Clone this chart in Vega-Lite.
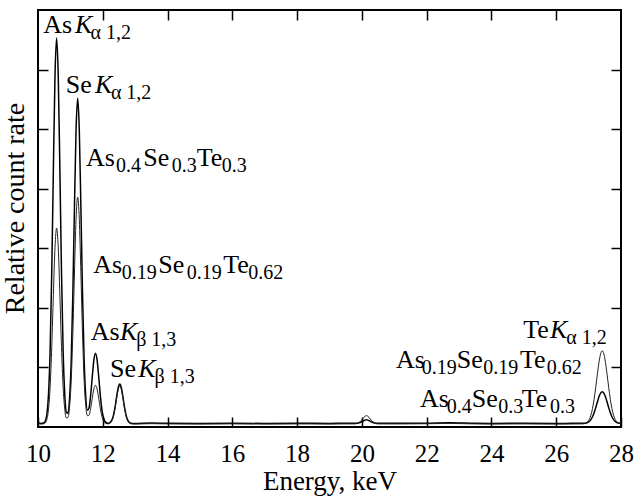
{
  "$schema": "https://vega.github.io/schema/vega-lite/v6.json",
  "width": 583,
  "height": 417,
  "autosize": "none",
  "padding": {"left": 38, "top": 10, "right": 13, "bottom": 70},
  "background": "white",
  "config": {
    "view": {"stroke": "black", "strokeWidth": 2},
    "font": "Liberation Serif",
    "text": {"font": "Liberation Serif"},
    "axis": {
      "labelFont": "Liberation Serif", "labelFontSize": 25, "labelColor": "black",
      "titleFont": "Liberation Serif", "titleFontSize": 27, "titleFontWeight": "normal", "titleColor": "black",
      "domain": false, "grid": false, "tickColor": "black", "tickWidth": 1.5, "tickSize": -10,
      "labelFlush": false, "labelOverlap": false
    }
  },
  "datasets": {
    "spectra": [
      {"energy": 10.0, "rate": 0.1, "sample": "As0.4Se0.3Te0.3"},
      {"energy": 10.025, "rate": 0.07, "sample": "As0.4Se0.3Te0.3"},
      {"energy": 10.075, "rate": 0.06, "sample": "As0.4Se0.3Te0.3"},
      {"energy": 10.125, "rate": 0.061, "sample": "As0.4Se0.3Te0.3"},
      {"energy": 10.175, "rate": 0.066, "sample": "As0.4Se0.3Te0.3"},
      {"energy": 10.225, "rate": 0.1, "sample": "As0.4Se0.3Te0.3"},
      {"energy": 10.275, "rate": 0.215, "sample": "As0.4Se0.3Te0.3"},
      {"energy": 10.325, "rate": 0.552, "sample": "As0.4Se0.3Te0.3"},
      {"energy": 10.375, "rate": 1.296, "sample": "As0.4Se0.3Te0.3"},
      {"energy": 10.425, "rate": 2.616, "sample": "As0.4Se0.3Te0.3"},
      {"energy": 10.475, "rate": 4.337, "sample": "As0.4Se0.3Te0.3"},
      {"energy": 10.525, "rate": 5.896, "sample": "As0.4Se0.3Te0.3"},
      {"energy": 10.575, "rate": 6.53, "sample": "As0.4Se0.3Te0.3"},
      {"energy": 10.625, "rate": 5.896, "sample": "As0.4Se0.3Te0.3"},
      {"energy": 10.675, "rate": 4.337, "sample": "As0.4Se0.3Te0.3"},
      {"energy": 10.725, "rate": 2.616, "sample": "As0.4Se0.3Te0.3"},
      {"energy": 10.775, "rate": 1.296, "sample": "As0.4Se0.3Te0.3"},
      {"energy": 10.825, "rate": 0.557, "sample": "As0.4Se0.3Te0.3"},
      {"energy": 10.875, "rate": 0.248, "sample": "As0.4Se0.3Te0.3"},
      {"energy": 10.925, "rate": 0.23, "sample": "As0.4Se0.3Te0.3"},
      {"energy": 10.975, "rate": 0.481, "sample": "As0.4Se0.3Te0.3"},
      {"energy": 11.025, "rate": 1.103, "sample": "As0.4Se0.3Te0.3"},
      {"energy": 11.075, "rate": 2.217, "sample": "As0.4Se0.3Te0.3"},
      {"energy": 11.125, "rate": 3.669, "sample": "As0.4Se0.3Te0.3"},
      {"energy": 11.175, "rate": 4.985, "sample": "As0.4Se0.3Te0.3"},
      {"energy": 11.225, "rate": 5.52, "sample": "As0.4Se0.3Te0.3"},
      {"energy": 11.275, "rate": 4.985, "sample": "As0.4Se0.3Te0.3"},
      {"energy": 11.325, "rate": 3.669, "sample": "As0.4Se0.3Te0.3"},
      {"energy": 11.375, "rate": 2.218, "sample": "As0.4Se0.3Te0.3"},
      {"energy": 11.425, "rate": 1.11, "sample": "As0.4Se0.3Te0.3"},
      {"energy": 11.475, "rate": 0.503, "sample": "As0.4Se0.3Te0.3"},
      {"energy": 11.525, "rate": 0.281, "sample": "As0.4Se0.3Te0.3"},
      {"energy": 11.575, "rate": 0.318, "sample": "As0.4Se0.3Te0.3"},
      {"energy": 11.625, "rate": 0.531, "sample": "As0.4Se0.3Te0.3"},
      {"energy": 11.675, "rate": 0.84, "sample": "As0.4Se0.3Te0.3"},
      {"energy": 11.725, "rate": 1.124, "sample": "As0.4Se0.3Te0.3"},
      {"energy": 11.775, "rate": 1.24, "sample": "As0.4Se0.3Te0.3"},
      {"energy": 11.825, "rate": 1.124, "sample": "As0.4Se0.3Te0.3"},
      {"energy": 11.875, "rate": 0.84, "sample": "As0.4Se0.3Te0.3"},
      {"energy": 11.925, "rate": 0.526, "sample": "As0.4Se0.3Te0.3"},
      {"energy": 11.975, "rate": 0.285, "sample": "As0.4Se0.3Te0.3"},
      {"energy": 12.025, "rate": 0.15, "sample": "As0.4Se0.3Te0.3"},
      {"energy": 12.075, "rate": 0.088, "sample": "As0.4Se0.3Te0.3"},
      {"energy": 12.125, "rate": 0.068, "sample": "As0.4Se0.3Te0.3"},
      {"energy": 12.175, "rate": 0.064, "sample": "As0.4Se0.3Te0.3"},
      {"energy": 12.225, "rate": 0.076, "sample": "As0.4Se0.3Te0.3"},
      {"energy": 12.275, "rate": 0.11, "sample": "As0.4Se0.3Te0.3"},
      {"energy": 12.325, "rate": 0.186, "sample": "As0.4Se0.3Te0.3"},
      {"energy": 12.375, "rate": 0.321, "sample": "As0.4Se0.3Te0.3"},
      {"energy": 12.425, "rate": 0.496, "sample": "As0.4Se0.3Te0.3"},
      {"energy": 12.475, "rate": 0.655, "sample": "As0.4Se0.3Te0.3"},
      {"energy": 12.525, "rate": 0.72, "sample": "As0.4Se0.3Te0.3"},
      {"energy": 12.575, "rate": 0.655, "sample": "As0.4Se0.3Te0.3"},
      {"energy": 12.625, "rate": 0.496, "sample": "As0.4Se0.3Te0.3"},
      {"energy": 12.675, "rate": 0.321, "sample": "As0.4Se0.3Te0.3"},
      {"energy": 12.725, "rate": 0.186, "sample": "As0.4Se0.3Te0.3"},
      {"energy": 12.775, "rate": 0.11, "sample": "As0.4Se0.3Te0.3"},
      {"energy": 12.825, "rate": 0.076, "sample": "As0.4Se0.3Te0.3"},
      {"energy": 12.875, "rate": 0.064, "sample": "As0.4Se0.3Te0.3"},
      {"energy": 12.975, "rate": 0.06, "sample": "As0.4Se0.3Te0.3"},
      {"energy": 13.5, "rate": 0.066, "sample": "As0.4Se0.3Te0.3"},
      {"energy": 14.0, "rate": 0.062, "sample": "As0.4Se0.3Te0.3"},
      {"energy": 15.0, "rate": 0.06, "sample": "As0.4Se0.3Te0.3"},
      {"energy": 16.0, "rate": 0.063, "sample": "As0.4Se0.3Te0.3"},
      {"energy": 17.0, "rate": 0.06, "sample": "As0.4Se0.3Te0.3"},
      {"energy": 18.0, "rate": 0.062, "sample": "As0.4Se0.3Te0.3"},
      {"energy": 19.0, "rate": 0.06, "sample": "As0.4Se0.3Te0.3"},
      {"energy": 19.5, "rate": 0.062, "sample": "As0.4Se0.3Te0.3"},
      {"energy": 19.79, "rate": 0.061, "sample": "As0.4Se0.3Te0.3"},
      {"energy": 19.84, "rate": 0.063, "sample": "As0.4Se0.3Te0.3"},
      {"energy": 19.89, "rate": 0.067, "sample": "As0.4Se0.3Te0.3"},
      {"energy": 19.94, "rate": 0.075, "sample": "As0.4Se0.3Te0.3"},
      {"energy": 19.99, "rate": 0.087, "sample": "As0.4Se0.3Te0.3"},
      {"energy": 20.04, "rate": 0.102, "sample": "As0.4Se0.3Te0.3"},
      {"energy": 20.09, "rate": 0.115, "sample": "As0.4Se0.3Te0.3"},
      {"energy": 20.14, "rate": 0.12, "sample": "As0.4Se0.3Te0.3"},
      {"energy": 20.19, "rate": 0.115, "sample": "As0.4Se0.3Te0.3"},
      {"energy": 20.24, "rate": 0.102, "sample": "As0.4Se0.3Te0.3"},
      {"energy": 20.29, "rate": 0.087, "sample": "As0.4Se0.3Te0.3"},
      {"energy": 20.34, "rate": 0.075, "sample": "As0.4Se0.3Te0.3"},
      {"energy": 20.39, "rate": 0.067, "sample": "As0.4Se0.3Te0.3"},
      {"energy": 20.44, "rate": 0.063, "sample": "As0.4Se0.3Te0.3"},
      {"energy": 20.49, "rate": 0.061, "sample": "As0.4Se0.3Te0.3"},
      {"energy": 21.0, "rate": 0.061, "sample": "As0.4Se0.3Te0.3"},
      {"energy": 22.0, "rate": 0.063, "sample": "As0.4Se0.3Te0.3"},
      {"energy": 22.7, "rate": 0.07, "sample": "As0.4Se0.3Te0.3"},
      {"energy": 23.5, "rate": 0.062, "sample": "As0.4Se0.3Te0.3"},
      {"energy": 24.0, "rate": 0.06, "sample": "As0.4Se0.3Te0.3"},
      {"energy": 25.0, "rate": 0.062, "sample": "As0.4Se0.3Te0.3"},
      {"energy": 26.0, "rate": 0.06, "sample": "As0.4Se0.3Te0.3"},
      {"energy": 26.5, "rate": 0.061, "sample": "As0.4Se0.3Te0.3"},
      {"energy": 26.82, "rate": 0.061, "sample": "As0.4Se0.3Te0.3"},
      {"energy": 26.87, "rate": 0.063, "sample": "As0.4Se0.3Te0.3"},
      {"energy": 26.92, "rate": 0.067, "sample": "As0.4Se0.3Te0.3"},
      {"energy": 26.97, "rate": 0.076, "sample": "As0.4Se0.3Te0.3"},
      {"energy": 27.02, "rate": 0.093, "sample": "As0.4Se0.3Te0.3"},
      {"energy": 27.07, "rate": 0.124, "sample": "As0.4Se0.3Te0.3"},
      {"energy": 27.12, "rate": 0.172, "sample": "As0.4Se0.3Te0.3"},
      {"energy": 27.17, "rate": 0.24, "sample": "As0.4Se0.3Te0.3"},
      {"energy": 27.22, "rate": 0.325, "sample": "As0.4Se0.3Te0.3"},
      {"energy": 27.27, "rate": 0.419, "sample": "As0.4Se0.3Te0.3"},
      {"energy": 27.32, "rate": 0.506, "sample": "As0.4Se0.3Te0.3"},
      {"energy": 27.37, "rate": 0.568, "sample": "As0.4Se0.3Te0.3"},
      {"energy": 27.42, "rate": 0.59, "sample": "As0.4Se0.3Te0.3"},
      {"energy": 27.47, "rate": 0.568, "sample": "As0.4Se0.3Te0.3"},
      {"energy": 27.52, "rate": 0.506, "sample": "As0.4Se0.3Te0.3"},
      {"energy": 27.57, "rate": 0.419, "sample": "As0.4Se0.3Te0.3"},
      {"energy": 27.62, "rate": 0.325, "sample": "As0.4Se0.3Te0.3"},
      {"energy": 27.67, "rate": 0.24, "sample": "As0.4Se0.3Te0.3"},
      {"energy": 27.72, "rate": 0.172, "sample": "As0.4Se0.3Te0.3"},
      {"energy": 27.77, "rate": 0.124, "sample": "As0.4Se0.3Te0.3"},
      {"energy": 27.82, "rate": 0.093, "sample": "As0.4Se0.3Te0.3"},
      {"energy": 27.87, "rate": 0.076, "sample": "As0.4Se0.3Te0.3"},
      {"energy": 27.92, "rate": 0.067, "sample": "As0.4Se0.3Te0.3"},
      {"energy": 27.97, "rate": 0.063, "sample": "As0.4Se0.3Te0.3"},
      {"energy": 28.0, "rate": 0.062, "sample": "As0.4Se0.3Te0.3"},

      {"energy": 10.0, "rate": 0.08, "sample": "As0.19Se0.19Te0.62"},
      {"energy": 10.025, "rate": 0.06, "sample": "As0.19Se0.19Te0.62"},
      {"energy": 10.075, "rate": 0.05, "sample": "As0.19Se0.19Te0.62"},
      {"energy": 10.125, "rate": 0.051, "sample": "As0.19Se0.19Te0.62"},
      {"energy": 10.175, "rate": 0.053, "sample": "As0.19Se0.19Te0.62"},
      {"energy": 10.225, "rate": 0.07, "sample": "As0.19Se0.19Te0.62"},
      {"energy": 10.275, "rate": 0.129, "sample": "As0.19Se0.19Te0.62"},
      {"energy": 10.325, "rate": 0.3, "sample": "As0.19Se0.19Te0.62"},
      {"energy": 10.375, "rate": 0.678, "sample": "As0.19Se0.19Te0.62"},
      {"energy": 10.425, "rate": 1.35, "sample": "As0.19Se0.19Te0.62"},
      {"energy": 10.475, "rate": 2.225, "sample": "As0.19Se0.19Te0.62"},
      {"energy": 10.525, "rate": 3.018, "sample": "As0.19Se0.19Te0.62"},
      {"energy": 10.575, "rate": 3.34, "sample": "As0.19Se0.19Te0.62"},
      {"energy": 10.625, "rate": 3.018, "sample": "As0.19Se0.19Te0.62"},
      {"energy": 10.675, "rate": 2.225, "sample": "As0.19Se0.19Te0.62"},
      {"energy": 10.725, "rate": 1.35, "sample": "As0.19Se0.19Te0.62"},
      {"energy": 10.775, "rate": 0.678, "sample": "As0.19Se0.19Te0.62"},
      {"energy": 10.825, "rate": 0.304, "sample": "As0.19Se0.19Te0.62"},
      {"energy": 10.875, "rate": 0.152, "sample": "As0.19Se0.19Te0.62"},
      {"energy": 10.925, "rate": 0.161, "sample": "As0.19Se0.19Te0.62"},
      {"energy": 10.975, "rate": 0.343, "sample": "As0.19Se0.19Te0.62"},
      {"energy": 11.025, "rate": 0.778, "sample": "As0.19Se0.19Te0.62"},
      {"energy": 11.075, "rate": 1.555, "sample": "As0.19Se0.19Te0.62"},
      {"energy": 11.125, "rate": 2.568, "sample": "As0.19Se0.19Te0.62"},
      {"energy": 11.175, "rate": 3.487, "sample": "As0.19Se0.19Te0.62"},
      {"energy": 11.225, "rate": 3.86, "sample": "As0.19Se0.19Te0.62"},
      {"energy": 11.275, "rate": 3.487, "sample": "As0.19Se0.19Te0.62"},
      {"energy": 11.325, "rate": 2.568, "sample": "As0.19Se0.19Te0.62"},
      {"energy": 11.375, "rate": 1.556, "sample": "As0.19Se0.19Te0.62"},
      {"energy": 11.425, "rate": 0.782, "sample": "As0.19Se0.19Te0.62"},
      {"energy": 11.475, "rate": 0.356, "sample": "As0.19Se0.19Te0.62"},
      {"energy": 11.525, "rate": 0.19, "sample": "As0.19Se0.19Te0.62"},
      {"energy": 11.575, "rate": 0.197, "sample": "As0.19Se0.19Te0.62"},
      {"energy": 11.625, "rate": 0.311, "sample": "As0.19Se0.19Te0.62"},
      {"energy": 11.675, "rate": 0.48, "sample": "As0.19Se0.19Te0.62"},
      {"energy": 11.725, "rate": 0.636, "sample": "As0.19Se0.19Te0.62"},
      {"energy": 11.775, "rate": 0.7, "sample": "As0.19Se0.19Te0.62"},
      {"energy": 11.825, "rate": 0.636, "sample": "As0.19Se0.19Te0.62"},
      {"energy": 11.875, "rate": 0.48, "sample": "As0.19Se0.19Te0.62"},
      {"energy": 11.925, "rate": 0.307, "sample": "As0.19Se0.19Te0.62"},
      {"energy": 11.975, "rate": 0.174, "sample": "As0.19Se0.19Te0.62"},
      {"energy": 12.025, "rate": 0.099, "sample": "As0.19Se0.19Te0.62"},
      {"energy": 12.075, "rate": 0.066, "sample": "As0.19Se0.19Te0.62"},
      {"energy": 12.125, "rate": 0.055, "sample": "As0.19Se0.19Te0.62"},
      {"energy": 12.175, "rate": 0.054, "sample": "As0.19Se0.19Te0.62"},
      {"energy": 12.225, "rate": 0.065, "sample": "As0.19Se0.19Te0.62"},
      {"energy": 12.275, "rate": 0.099, "sample": "As0.19Se0.19Te0.62"},
      {"energy": 12.325, "rate": 0.172, "sample": "As0.19Se0.19Te0.62"},
      {"energy": 12.375, "rate": 0.303, "sample": "As0.19Se0.19Te0.62"},
      {"energy": 12.425, "rate": 0.473, "sample": "As0.19Se0.19Te0.62"},
      {"energy": 12.475, "rate": 0.627, "sample": "As0.19Se0.19Te0.62"},
      {"energy": 12.525, "rate": 0.69, "sample": "As0.19Se0.19Te0.62"},
      {"energy": 12.575, "rate": 0.627, "sample": "As0.19Se0.19Te0.62"},
      {"energy": 12.625, "rate": 0.473, "sample": "As0.19Se0.19Te0.62"},
      {"energy": 12.675, "rate": 0.303, "sample": "As0.19Se0.19Te0.62"},
      {"energy": 12.725, "rate": 0.172, "sample": "As0.19Se0.19Te0.62"},
      {"energy": 12.775, "rate": 0.099, "sample": "As0.19Se0.19Te0.62"},
      {"energy": 12.825, "rate": 0.065, "sample": "As0.19Se0.19Te0.62"},
      {"energy": 12.875, "rate": 0.054, "sample": "As0.19Se0.19Te0.62"},
      {"energy": 12.975, "rate": 0.05, "sample": "As0.19Se0.19Te0.62"},
      {"energy": 13.5, "rate": 0.056, "sample": "As0.19Se0.19Te0.62"},
      {"energy": 14.0, "rate": 0.052, "sample": "As0.19Se0.19Te0.62"},
      {"energy": 15.0, "rate": 0.05, "sample": "As0.19Se0.19Te0.62"},
      {"energy": 16.0, "rate": 0.053, "sample": "As0.19Se0.19Te0.62"},
      {"energy": 17.0, "rate": 0.05, "sample": "As0.19Se0.19Te0.62"},
      {"energy": 18.0, "rate": 0.052, "sample": "As0.19Se0.19Te0.62"},
      {"energy": 19.0, "rate": 0.05, "sample": "As0.19Se0.19Te0.62"},
      {"energy": 19.5, "rate": 0.052, "sample": "As0.19Se0.19Te0.62"},
      {"energy": 19.79, "rate": 0.052, "sample": "As0.19Se0.19Te0.62"},
      {"energy": 19.84, "rate": 0.056, "sample": "As0.19Se0.19Te0.62"},
      {"energy": 19.89, "rate": 0.066, "sample": "As0.19Se0.19Te0.62"},
      {"energy": 19.94, "rate": 0.085, "sample": "As0.19Se0.19Te0.62"},
      {"energy": 19.99, "rate": 0.114, "sample": "As0.19Se0.19Te0.62"},
      {"energy": 20.04, "rate": 0.149, "sample": "As0.19Se0.19Te0.62"},
      {"energy": 20.09, "rate": 0.178, "sample": "As0.19Se0.19Te0.62"},
      {"energy": 20.14, "rate": 0.19, "sample": "As0.19Se0.19Te0.62"},
      {"energy": 20.19, "rate": 0.178, "sample": "As0.19Se0.19Te0.62"},
      {"energy": 20.24, "rate": 0.149, "sample": "As0.19Se0.19Te0.62"},
      {"energy": 20.29, "rate": 0.114, "sample": "As0.19Se0.19Te0.62"},
      {"energy": 20.34, "rate": 0.085, "sample": "As0.19Se0.19Te0.62"},
      {"energy": 20.39, "rate": 0.066, "sample": "As0.19Se0.19Te0.62"},
      {"energy": 20.44, "rate": 0.056, "sample": "As0.19Se0.19Te0.62"},
      {"energy": 20.49, "rate": 0.052, "sample": "As0.19Se0.19Te0.62"},
      {"energy": 21.0, "rate": 0.051, "sample": "As0.19Se0.19Te0.62"},
      {"energy": 22.0, "rate": 0.055, "sample": "As0.19Se0.19Te0.62"},
      {"energy": 22.7, "rate": 0.06, "sample": "As0.19Se0.19Te0.62"},
      {"energy": 23.5, "rate": 0.052, "sample": "As0.19Se0.19Te0.62"},
      {"energy": 24.0, "rate": 0.05, "sample": "As0.19Se0.19Te0.62"},
      {"energy": 25.0, "rate": 0.052, "sample": "As0.19Se0.19Te0.62"},
      {"energy": 26.0, "rate": 0.05, "sample": "As0.19Se0.19Te0.62"},
      {"energy": 26.5, "rate": 0.051, "sample": "As0.19Se0.19Te0.62"},
      {"energy": 26.82, "rate": 0.052, "sample": "As0.19Se0.19Te0.62"},
      {"energy": 26.87, "rate": 0.056, "sample": "As0.19Se0.19Te0.62"},
      {"energy": 26.92, "rate": 0.066, "sample": "As0.19Se0.19Te0.62"},
      {"energy": 26.97, "rate": 0.087, "sample": "As0.19Se0.19Te0.62"},
      {"energy": 27.02, "rate": 0.127, "sample": "As0.19Se0.19Te0.62"},
      {"energy": 27.07, "rate": 0.198, "sample": "As0.19Se0.19Te0.62"},
      {"energy": 27.12, "rate": 0.31, "sample": "As0.19Se0.19Te0.62"},
      {"energy": 27.17, "rate": 0.467, "sample": "As0.19Se0.19Te0.62"},
      {"energy": 27.22, "rate": 0.665, "sample": "As0.19Se0.19Te0.62"},
      {"energy": 27.27, "rate": 0.884, "sample": "As0.19Se0.19Te0.62"},
      {"energy": 27.32, "rate": 1.084, "sample": "As0.19Se0.19Te0.62"},
      {"energy": 27.37, "rate": 1.228, "sample": "As0.19Se0.19Te0.62"},
      {"energy": 27.42, "rate": 1.28, "sample": "As0.19Se0.19Te0.62"},
      {"energy": 27.47, "rate": 1.228, "sample": "As0.19Se0.19Te0.62"},
      {"energy": 27.52, "rate": 1.084, "sample": "As0.19Se0.19Te0.62"},
      {"energy": 27.57, "rate": 0.884, "sample": "As0.19Se0.19Te0.62"},
      {"energy": 27.62, "rate": 0.665, "sample": "As0.19Se0.19Te0.62"},
      {"energy": 27.67, "rate": 0.467, "sample": "As0.19Se0.19Te0.62"},
      {"energy": 27.72, "rate": 0.31, "sample": "As0.19Se0.19Te0.62"},
      {"energy": 27.77, "rate": 0.198, "sample": "As0.19Se0.19Te0.62"},
      {"energy": 27.82, "rate": 0.127, "sample": "As0.19Se0.19Te0.62"},
      {"energy": 27.87, "rate": 0.087, "sample": "As0.19Se0.19Te0.62"},
      {"energy": 27.92, "rate": 0.066, "sample": "As0.19Se0.19Te0.62"},
      {"energy": 27.97, "rate": 0.056, "sample": "As0.19Se0.19Te0.62"},
      {"energy": 28.0, "rate": 0.054, "sample": "As0.19Se0.19Te0.62"}
    ],
    "main": [
      {"x": 10.164, "y": 6.609, "t": "As"},
      {"x": 10.855, "y": 5.602, "t": "Se"},
      {"x": 11.482, "y": 4.386, "t": "As"},
      {"x": 13.251, "y": 4.386, "t": "Se"},
      {"x": 14.9, "y": 4.386, "t": "Te"},
      {"x": 11.707, "y": 2.58, "t": "As"},
      {"x": 13.714, "y": 2.58, "t": "Se"},
      {"x": 15.721, "y": 2.58, "t": "Te"},
      {"x": 11.627, "y": 1.46, "t": "As"},
      {"x": 12.223, "y": 0.844, "t": "Se"},
      {"x": 24.983, "y": 1.489, "t": "Te"},
      {"x": 21.053, "y": 0.985, "t": "As"},
      {"x": 22.927, "y": 0.985, "t": "Se"},
      {"x": 24.881, "y": 0.985, "t": "Te"},
      {"x": 21.794, "y": 0.341, "t": "As"},
      {"x": 23.39, "y": 0.341, "t": "Se"},
      {"x": 24.934, "y": 0.341, "t": "Te"}
    ],
    "kital": [
      {"x": 11.142, "y": 6.609, "t": "K"},
      {"x": 11.76, "y": 5.602, "t": "K"},
      {"x": 12.532, "y": 1.46, "t": "K"},
      {"x": 13.097, "y": 0.844, "t": "K"},
      {"x": 25.807, "y": 1.489, "t": "K"}
    ],
    "subs": [
      {"x": 11.62, "y": 6.609, "t": "α 1,2"},
      {"x": 12.25, "y": 5.602, "t": "α 1,2"},
      {"x": 12.408, "y": 4.386, "t": "0.4"},
      {"x": 14.128, "y": 4.386, "t": "0.3"},
      {"x": 15.671, "y": 4.386, "t": "0.3"},
      {"x": 12.584, "y": 2.58, "t": "0.19"},
      {"x": 14.591, "y": 2.58, "t": "0.19"},
      {"x": 16.493, "y": 2.58, "t": "0.62"},
      {"x": 13.03, "y": 1.46, "t": "β 1,3"},
      {"x": 13.6, "y": 0.844, "t": "β 1,3"},
      {"x": 26.31, "y": 1.489, "t": "α 1,2"},
      {"x": 21.846, "y": 0.985, "t": "0.19"},
      {"x": 23.748, "y": 0.985, "t": "0.19"},
      {"x": 25.705, "y": 0.985, "t": "0.62"},
      {"x": 22.618, "y": 0.341, "t": "0.4"},
      {"x": 24.211, "y": 0.341, "t": "0.3"},
      {"x": 25.807, "y": 0.341, "t": "0.3"}
    ]
  },
  "layer": [
    {
      "data": {"name": "spectra"},
      "transform": [{"filter": "datum.sample === 'As0.4Se0.3Te0.3'"}],
      "mark": {"type": "line", "color": "black", "strokeWidth": 1.5, "interpolate": "monotone"},
      "encoding": {
        "x": {"field": "energy", "type": "quantitative", "scale": {"domain": [10, 28], "nice": false},
              "axis": {"orient": "bottom", "title": "Energy, keV", "values": [10, 12, 14, 16, 18, 20, 22, 24, 26, 28], "labelPadding": 24, "titlePadding": 2,
                       "labelFont": "Liberation Serif", "titleFont": "Liberation Serif"}},
        "y": {"field": "rate", "type": "quantitative", "scale": {"domain": [0, 7], "nice": false},
              "axis": {"orient": "left", "title": "Relative count rate", "values": [1, 2, 3, 4, 5, 6], "labels": false, "titlePadding": 8,
                       "titleFontSize": 28, "titleY": 198,
                       "labelFont": "Liberation Serif", "titleFont": "Liberation Serif"}}
      }
    },
    {
      "data": {"name": "spectra"},
      "transform": [{"filter": "datum.sample === 'As0.19Se0.19Te0.62'"}],
      "mark": {"type": "line", "color": "#222222", "strokeWidth": 1.0, "interpolate": "monotone"},
      "encoding": {
        "x": {"field": "energy", "type": "quantitative", "scale": {"domain": [10, 28], "nice": false},
              "axis": {"orient": "top", "title": null, "values": [12, 14, 16, 18, 20, 22, 24, 26], "labels": false}},
        "y": {"field": "rate", "type": "quantitative", "scale": {"domain": [0, 7], "nice": false},
              "axis": {"orient": "right", "title": null, "values": [1, 2, 3, 4, 5, 6], "labels": false}}
      }
    },
    {
      "data": {"name": "main"},
      "mark": {"type": "text", "font": "Liberation Serif", "fontSize": 26, "align": "left", "baseline": "alphabetic", "color": "black"},
      "encoding": {
        "x": {"field": "x", "type": "quantitative", "scale": {"domain": [10, 28], "nice": false}, "axis": null},
        "y": {"field": "y", "type": "quantitative", "scale": {"domain": [0, 7], "nice": false}, "axis": null},
        "text": {"field": "t"}
      }
    },
    {
      "data": {"name": "kital"},
      "mark": {"type": "text", "font": "Liberation Serif", "fontSize": 26, "fontStyle": "italic", "align": "left", "baseline": "alphabetic", "color": "black"},
      "encoding": {
        "x": {"field": "x", "type": "quantitative", "scale": {"domain": [10, 28], "nice": false}, "axis": null},
        "y": {"field": "y", "type": "quantitative", "scale": {"domain": [0, 7], "nice": false}, "axis": null},
        "text": {"field": "t"}
      }
    },
    {
      "data": {"name": "subs"},
      "mark": {"type": "text", "font": "Liberation Serif", "fontSize": 20, "align": "left", "baseline": "alphabetic", "dy": 6, "color": "black"},
      "encoding": {
        "x": {"field": "x", "type": "quantitative", "scale": {"domain": [10, 28], "nice": false}, "axis": null},
        "y": {"field": "y", "type": "quantitative", "scale": {"domain": [0, 7], "nice": false}, "axis": null},
        "text": {"field": "t"}
      }
    }
  ],
  "resolve": {"axis": {"x": "independent", "y": "independent"}}
}
